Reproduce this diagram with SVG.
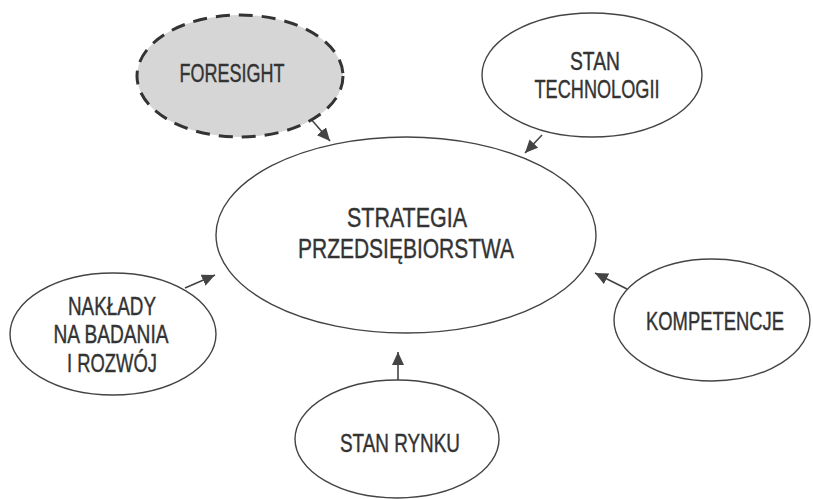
<svg xmlns="http://www.w3.org/2000/svg" width="813" height="499" viewBox="0 0 813 499">
<defs>
<marker id="ah" markerUnits="userSpaceOnUse" markerWidth="14" markerHeight="12" refX="13" refY="6" orient="auto">
<path d="M0,0 L13,6 L0,12 Z" fill="#444"/>
</marker>
<style>
.node{fill:#fff;stroke:#444;stroke-width:1.4}
.fs{fill:#d6d6d6;stroke:#333;stroke-width:3;stroke-dasharray:14 9}
.t{font-family:"Liberation Sans",Arial,sans-serif;font-size:25px;fill:#333;stroke:#333;stroke-width:0.4;text-anchor:middle}
.big{font-size:28px}
.c{stroke:#444;stroke-width:1.6;fill:none;marker-end:url(#ah)}
</style>
</defs>
<rect width="813" height="499" fill="#fff"/>
<g id="connectors">
<line class="c" x1="310" y1="118" x2="330" y2="141"/>
<line class="c" x1="542" y1="135" x2="525" y2="153"/>
<line class="c" x1="185" y1="288" x2="215" y2="275"/>
<line class="c" x1="627" y1="289" x2="595" y2="273"/>
<line class="c" x1="398" y1="380" x2="398" y2="352"/>
</g>
<g id="strategia">
<ellipse class="node" cx="406" cy="235" rx="190" ry="98"/>
<text class="t big" x="407" y="227" textLength="120" lengthAdjust="spacingAndGlyphs">STRATEGIA</text>
<text class="t big" x="406" y="258" textLength="216" lengthAdjust="spacingAndGlyphs">PRZEDSIĘBIORSTWA</text>
</g>
<g id="foresight">
<ellipse class="fs" cx="240" cy="76" rx="103" ry="61"/>
<text class="t" x="232" y="82" textLength="105" lengthAdjust="spacingAndGlyphs">FORESIGHT</text>
</g>
<g id="stan-technologii">
<ellipse class="node" cx="592" cy="75" rx="110" ry="62"/>
<text class="t" x="595" y="70" textLength="50" lengthAdjust="spacingAndGlyphs">STAN</text>
<text class="t" x="597" y="98" textLength="125" lengthAdjust="spacingAndGlyphs">TECHNOLOGII</text>
</g>
<g id="naklady">
<ellipse class="node" cx="113" cy="334" rx="103" ry="61"/>
<text class="t" x="112" y="315" textLength="88" lengthAdjust="spacingAndGlyphs">NAKŁADY</text>
<text class="t" x="111" y="343" textLength="115" lengthAdjust="spacingAndGlyphs">NA BADANIA</text>
<text class="t" x="112" y="372" textLength="90" lengthAdjust="spacingAndGlyphs">I ROZWÓJ</text>
</g>
<g id="kompetencje">
<ellipse class="node" cx="712" cy="320" rx="98" ry="61"/>
<text class="t" transform="translate(715,330) scale(0.736,1)" x="0" y="0">KOMPETENCJE</text>
</g>
<g id="stan-rynku">
<ellipse class="node" cx="397" cy="439" rx="102" ry="59"/>
<text class="t" x="400" y="452" textLength="120" lengthAdjust="spacingAndGlyphs">STAN RYNKU</text>
</g>
</svg>
